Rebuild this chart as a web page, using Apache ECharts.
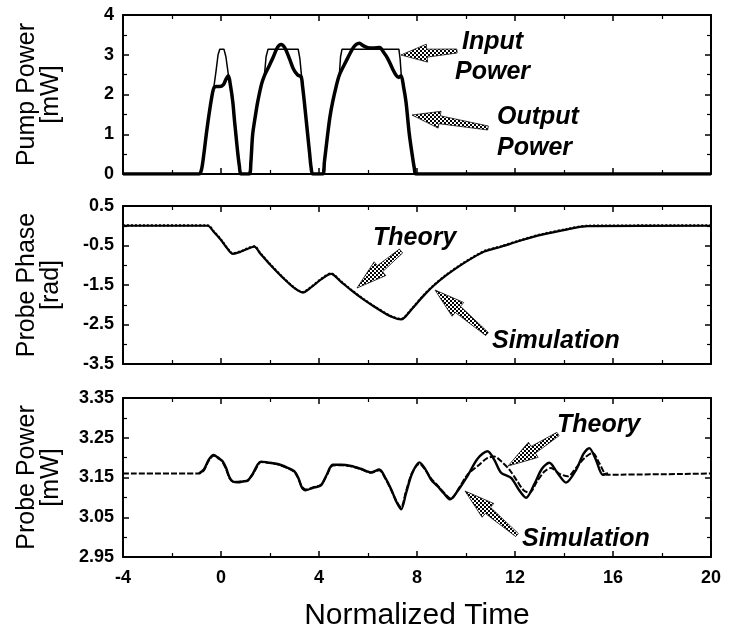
<!DOCTYPE html>
<html><head><meta charset="utf-8">
<script src="https://cdn.jsdelivr.net/npm/echarts@6/dist/echarts.min.js"></script>
<style>html,body{margin:0;padding:0;background:#fff}#c{width:738px;height:632px}</style>
</head><body><div id="c"></div>
<script>
// ---- data (x = normalized time) ----
const inputPower = [[-4,0],[-0.9,0],[-0.8,0.1],[-0.7,0.5],[-0.6,1.0],[-0.5,1.45],[-0.4,1.85],[-0.3,2.15],[-0.2,2.6],[-0.12,3.0],[-0.05,3.14],[0.12,3.14],[0.2,2.95],[0.3,2.5],[0.38,2.25],[0.48,1.82],[0.55,1.35],[0.61,0.98],[0.68,0.55],[0.75,0.2],[0.82,0],
[1.15,0],[1.22,0.3],[1.29,0.98],[1.4,1.45],[1.5,1.82],[1.65,2.25],[1.77,2.47],[1.84,2.95],[1.92,3.14],[3.15,3.14],[3.22,2.9],[3.29,2.45],[3.4,1.82],[3.47,1.4],[3.54,0.98],[3.62,0.5],[3.68,0.15],[3.75,0],
[4.15,0],[4.22,0.3],[4.35,0.98],[4.45,1.45],[4.56,1.82],[4.7,2.2],[4.83,2.49],[4.88,2.95],[4.94,3.14],[7.26,3.14],[7.31,2.9],[7.36,2.47],[7.45,2.2],[7.55,1.82],[7.62,1.4],[7.69,0.98],[7.8,0.5],[7.89,0.15],[7.96,0],[20,0]];
const outputPower = [[-4,0],[-0.9,0],[-0.8,0.1],[-0.7,0.5],[-0.6,1.0],[-0.5,1.45],[-0.4,1.85],[-0.3,2.15],[-0.2,2.2],[-0.05,2.2],[0.1,2.25],[0.2,2.38],[0.3,2.47],[0.38,2.25],[0.48,1.82],[0.55,1.35],[0.61,0.98],[0.68,0.55],[0.75,0.2],[0.82,0],
[1.15,0],[1.22,0.3],[1.29,0.98],[1.4,1.45],[1.5,1.82],[1.65,2.25],[1.77,2.47],[1.95,2.7],[2.11,2.91],[2.3,3.18],[2.45,3.26],[2.6,3.18],[2.79,2.91],[2.95,2.65],[3.13,2.49],[3.27,2.45],[3.33,2.2],[3.4,1.82],[3.47,1.4],[3.54,0.98],[3.62,0.5],[3.68,0.15],[3.75,0],
[4.15,0],[4.22,0.3],[4.35,0.98],[4.45,1.45],[4.56,1.82],[4.7,2.2],[4.83,2.49],[5.1,2.83],[5.38,3.16],[5.52,3.26],[5.65,3.29],[5.8,3.23],[5.99,3.18],[6.2,3.17],[6.47,3.18],[6.65,3.05],[6.8,2.91],[7.0,2.65],[7.14,2.49],[7.25,2.43],[7.35,2.47],[7.45,2.2],[7.55,1.82],[7.62,1.4],[7.69,0.98],[7.8,0.5],[7.89,0.15],[7.96,0],[20,0]];
const phaseTheory = [[-4,0],[-0.55,0],[-0.3,-0.15],[0,-0.36],[0.25,-0.57],[0.48,-0.71],[0.8,-0.66],[1.1,-0.58],[1.36,-0.53],[1.6,-0.7],[2.0,-0.98],[2.5,-1.3],[3.0,-1.58],[3.33,-1.69],[3.7,-1.55],[4.1,-1.35],[4.49,-1.22],[4.9,-1.42],[5.31,-1.63],[5.8,-1.86],[6.26,-2.05],[6.94,-2.3],[7.35,-2.37],[7.76,-2.13],[8.3,-1.75],[8.71,-1.5],[9.2,-1.25],[9.8,-0.99],[10.3,-0.8],[10.75,-0.65],[11.43,-0.53],[12.2,-0.38],[13.06,-0.23],[14.15,-0.09],[14.97,-0.01],[20,0]];
const phaseSimulation = [[-4,0.01],[-0.55,0.01],[-0.3,-0.14],[0,-0.35],[0.25,-0.56],[0.48,-0.7],[0.8,-0.65],[1.1,-0.57],[1.36,-0.52],[1.6,-0.69],[2.0,-0.97],[2.5,-1.29],[3.0,-1.57],[3.33,-1.68],[3.7,-1.54],[4.1,-1.34],[4.49,-1.21],[4.9,-1.41],[5.31,-1.62],[5.8,-1.85],[6.26,-2.04],[6.94,-2.29],[7.35,-2.36],[7.76,-2.12],[8.3,-1.74],[8.71,-1.49],[9.2,-1.24],[9.8,-0.98],[10.3,-0.79],[10.75,-0.64],[11.43,-0.52],[12.2,-0.37],[13.06,-0.22],[14.15,-0.08],[14.97,0],[20,0.01]];
const probeSimulation = [[-0.9,3.16],[-0.7,3.17],[-0.5,3.195],[-0.3,3.207],[-0.1,3.198],[0.05,3.192],[0.2,3.175],[0.35,3.15],[0.48,3.14],[0.7,3.138],[0.9,3.14],[1.09,3.142],[1.3,3.16],[1.5,3.183],[1.63,3.19],[1.9,3.188],[2.31,3.184],[2.7,3.175],[2.99,3.166],[3.15,3.15],[3.3,3.125],[3.45,3.118],[3.81,3.125],[4.08,3.13],[4.3,3.155],[4.56,3.182],[4.9,3.182],[5.31,3.179],[5.7,3.172],[6.12,3.163],[6.46,3.17],[6.7,3.15],[6.95,3.12],[7.15,3.09],[7.35,3.07],[7.55,3.11],[7.8,3.16],[8.1,3.188],[8.35,3.17],[8.57,3.145],[8.84,3.128],[9.1,3.11],[9.35,3.095],[9.7,3.12],[10.07,3.155],[10.48,3.198],[10.88,3.216],[11.15,3.195],[11.43,3.162],[11.84,3.149],[12.15,3.12],[12.45,3.099],[12.8,3.135],[13.1,3.172],[13.4,3.187],[13.75,3.16],[14.08,3.137],[14.5,3.17],[14.8,3.21],[15.03,3.224],[15.3,3.195],[15.58,3.157],[15.8,3.16]];
const probeTheory = [[-4,3.16],[-0.9,3.16],[-0.7,3.168],[-0.5,3.192],[-0.3,3.205],[-0.1,3.2],[0.05,3.19],[0.2,3.172],[0.35,3.148],[0.48,3.14],[0.7,3.139],[0.9,3.141],[1.09,3.143],[1.3,3.158],[1.5,3.18],[1.63,3.189],[1.9,3.187],[2.31,3.183],[2.7,3.174],[2.99,3.164],[3.15,3.148],[3.3,3.127],[3.45,3.12],[3.81,3.126],[4.08,3.132],[4.3,3.153],[4.56,3.18],[4.9,3.181],[5.31,3.178],[5.7,3.171],[6.12,3.162],[6.46,3.168],[6.7,3.148],[6.95,3.118],[7.15,3.092],[7.35,3.075],[7.55,3.115],[7.8,3.162],[8.1,3.185],[8.35,3.168],[8.57,3.148],[8.84,3.13],[9.1,3.112],[9.39,3.097],[9.73,3.125],[10.07,3.158],[10.5,3.18],[10.85,3.198],[11.15,3.203],[11.45,3.19],[11.77,3.17],[12.1,3.14],[12.35,3.118],[12.59,3.112],[12.9,3.14],[13.2,3.165],[13.47,3.174],[13.8,3.16],[14.15,3.153],[14.5,3.175],[14.85,3.2],[15.17,3.212],[15.45,3.185],[15.78,3.157],[20,3.16]];
// axis ranges [min, max, interval]
const timeRange = [-4, 20, 4];
const pumpRange = [0, 4, 1];
const phaseRange = [-3.5, 0.5, 1];
const probeRange = [2.95, 3.35, 0.1];
const yNames = ['Pump Power\n[mW]', 'Probe Phase\n[rad]', 'Probe Power\n[mW]'];
const xName = 'Normalized Time';
const yDecimals = [0, 1, 2];

const FONT = '"Liberation Sans", Arial, sans-serif';
const chart = echarts.init(document.getElementById('c'), null, {renderer: 'canvas'});

const grids = [
  {left: 123, top: 15, width: 588, height: 159},
  {left: 123, top: 206, width: 588, height: 158},
  {left: 123, top: 398, width: 588, height: 160}
];
const yRanges = [pumpRange, phaseRange, probeRange];

const axisLine = {show: true, onZero: false, lineStyle: {color: '#000', width: 2}};
const tick = {show: true, inside: true, length: 6, lineStyle: {color: '#000', width: 1.5}};
const minor = {show: true, splitNumber: 2, length: 4, lineStyle: {color: '#000', width: 1.2}};

const xAxes = [], yAxes = [];
for (let i = 0; i < 3; i++) {
  const base = {type: 'value', gridIndex: i, min: timeRange[0], max: timeRange[1], interval: timeRange[2],
    axisLine, axisTick: tick, minorTick: minor, splitLine: {show: false}};
  xAxes.push(Object.assign({}, base, {position: 'bottom',
    axisLabel: {show: i === 2, color: '#000', fontSize: 18, fontWeight: 'bold', fontFamily: FONT, margin: 12},
    name: i === 2 ? xName : '', nameLocation: 'middle', nameGap: 44,
    nameTextStyle: {fontSize: 30, color: '#000', fontFamily: FONT}}));
  const r = yRanges[i];
  const ybase = {type: 'value', gridIndex: i, min: r[0], max: r[1], interval: r[2],
    axisLine, axisTick: tick, minorTick: minor, splitLine: {show: false}};
  yAxes.push(Object.assign({}, ybase, {position: 'left',
    axisLabel: {show: true, color: '#000', fontSize: 18, fontWeight: 'bold', fontFamily: FONT, margin: 9,
      formatter: v => Number(v).toFixed(yDecimals[i])},
    name: yNames[i], nameLocation: 'middle', nameGap: 60, nameRotate: 90,
    nameTextStyle: {fontSize: 25, lineHeight: 24, color: '#000', fontFamily: FONT}}));
}
for (let i = 0; i < 3; i++) {
  xAxes.push({type: 'value', gridIndex: i, position: 'top', min: timeRange[0], max: timeRange[1], interval: timeRange[2],
    axisLine, axisTick: tick, minorTick: minor, axisLabel: {show: false}, splitLine: {show: false}});
  const r = yRanges[i];
  yAxes.push({type: 'value', gridIndex: i, position: 'right', min: r[0], max: r[1], interval: r[2],
    axisLine, axisTick: tick, minorTick: minor, axisLabel: {show: false}, splitLine: {show: false}});
}

function line(data, idx, width, type, smooth, z) {
  return {type: 'line', data, xAxisIndex: idx, yAxisIndex: idx, showSymbol: false, symbol: 'none',
    smooth: smooth, z: z || 2, lineStyle: {color: '#000', width, type}};
}
const series = [
  line(inputPower, 0, 1.5, 'solid', false, 3),
  line(outputPower, 0, 3.5, 'solid', 0.3, 2),
  line(phaseTheory, 1, 2.2, 'solid', 0.3, 2),
  line(phaseSimulation, 1, 2.2, [2, 2], 0.3, 3),
  line(probeSimulation, 2, 2.4, 'solid', 0.3, 3),
  line(probeTheory, 2, 2, [6, 2], 0.3, 2)
];

// hatched pattern for annotation arrows
const pc = document.createElement('canvas');
pc.width = 4; pc.height = 4;
const pctx = pc.getContext('2d');
pctx.fillStyle = '#000'; pctx.fillRect(0, 0, 4, 4);
pctx.fillStyle = '#fff'; pctx.fillRect(0, 0, 2, 2); pctx.fillRect(2, 2, 2, 2);

function arrowPoly(tip, tail, headLen, headW, neckW, tailW) {
  const dx = tail[0] - tip[0], dy = tail[1] - tip[1];
  const L = Math.hypot(dx, dy), ux = dx / L, uy = dy / L, nx = -uy, ny = ux;
  const hb = [tip[0] + ux * headLen, tip[1] + uy * headLen];
  const p = (c, w) => [c[0] + nx * w / 2, c[1] + ny * w / 2];
  return [tip, p(hb, headW), p(hb, neckW), p(tail, tailW), p(tail, -tailW), p(hb, -neckW), p(hb, -headW)];
}
const arrows = [
  [[401, 55], [457, 51], 26, 18, 8, 4],
  [[412, 115], [488, 128], 28, 17, 8, 4],
  [[357, 288], [401, 251], 30, 18, 8, 5],
  [[435, 290], [487, 334], 30, 18, 8, 4],
  [[508, 466], [558, 434], 30, 18, 8, 4],
  [[465, 491], [517, 535], 30, 18, 8, 4]
];
const texts = [
  ['Input', 462, 42], ['Power', 455, 72],
  ['Output', 497, 117], ['Power', 497, 148],
  ['Theory', 373, 238], ['Simulation', 492, 341],
  ['Theory', 557, 425], ['Simulation', 522, 539]
];
const graphic = [];
arrows.forEach(a => graphic.push({type: 'polygon', shape: {points: arrowPoly(...a)},
  style: {fill: {image: pc, repeat: 'repeat'}, stroke: '#111', lineWidth: 0.8}, z: 10}));
texts.forEach(t => graphic.push({type: 'text', x: t[1], y: t[2],
  style: {text: t[0], font: 'italic bold 25px ' + FONT, fill: '#000', verticalAlign: 'middle', align: 'left'}, z: 10}));

chart.setOption({
  backgroundColor: '#fff',
  animation: false,
  grid: grids,
  xAxis: xAxes,
  yAxis: yAxes,
  series,
  graphic
});
</script></body></html>
